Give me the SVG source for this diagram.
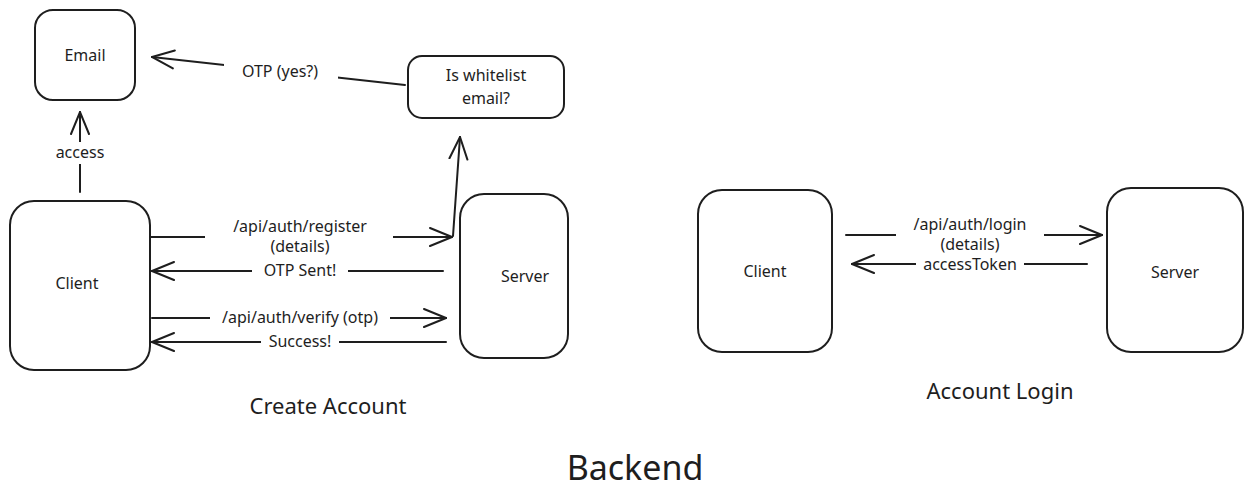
<svg xmlns="http://www.w3.org/2000/svg" width="1252" height="501" viewBox="0 0 1252 501">
<style>
.box{fill:#fff;stroke:#1e1e1e;stroke-width:2}
.ln{fill:none;stroke:#1e1e1e;stroke-width:2;stroke-linecap:round}
.t{font-family:"Noto Sans","DejaVu Sans",sans-serif;font-size:16px;fill:#1e1e1e;text-anchor:middle;dominant-baseline:central}
.lb{font-family:"Noto Sans","DejaVu Sans",sans-serif;font-size:16px;fill:#1e1e1e;text-anchor:middle;dominant-baseline:central}
.bg{fill:#fff}
</style>
<defs>
<marker id="ah" viewBox="0 0 24 24" refX="23" refY="12" markerWidth="24" markerHeight="24" markerUnits="userSpaceOnUse" orient="auto">
<path d="M1 3 L23 12 L1 21" fill="none" stroke="#1e1e1e" stroke-width="2" stroke-linecap="round"/>
</marker>
</defs>
<rect width="1252" height="501" fill="#fff"/>

<g id="email">
<rect class="box" x="35" y="10" width="100" height="90" rx="18"/>
<text class="t" x="85" y="55">Email</text>
</g>
<g id="whitelist">
<rect class="box" x="408" y="56" width="156" height="62" rx="14"/>
<text class="t" x="486" y="75">Is whitelist</text>
<text class="t" x="486" y="98">email?</text>
</g>
<g id="client-create">
<rect class="box" x="10" y="201" width="140" height="169" rx="24"/>
<text class="t" x="77" y="283">Client</text>
</g>
<g id="server-create">
<rect class="box" x="460" y="194" width="108" height="164" rx="24"/>
<text class="t" x="525" y="276">Server</text>
</g>
<g id="client-login">
<rect class="box" x="698" y="190" width="134" height="162" rx="24"/>
<text class="t" x="765" y="271">Client</text>
</g>
<g id="server-login">
<rect class="box" x="1107" y="188" width="136" height="164" rx="24"/>
<text class="t" x="1175" y="272">Server</text>
</g>

<g id="connectors">
<path class="ln" d="M405 85 L152 57" marker-end="url(#ah)"/>
<rect class="bg" x="224" y="60" width="114" height="22"/>
<text class="lb" x="280" y="71">OTP (yes?)</text>

<path class="ln" d="M80 192 L80 112" marker-end="url(#ah)"/>
<rect class="bg" x="48" y="142" width="64" height="22"/>
<text class="lb" x="80" y="152">access</text>

<path class="ln" d="M150 237 L452 237" marker-end="url(#ah)"/>
<path class="ln" d="M453 236 L460 137" marker-end="url(#ah)"/>
<rect class="bg" x="205" y="216" width="188" height="42"/>
<text class="lb" x="300" y="226">/api/auth/register</text>
<text class="lb" x="300" y="246">(details)</text>

<path class="ln" d="M443 271 L152 271" marker-end="url(#ah)"/>
<rect class="bg" x="252" y="262" width="96" height="18"/>
<text class="lb" x="300" y="270">OTP Sent!</text>

<path class="ln" d="M152 318 L446 318" marker-end="url(#ah)"/>
<rect class="bg" x="210" y="308" width="180" height="20"/>
<text class="lb" x="300" y="317">/api/auth/verify (otp)</text>

<path class="ln" d="M446 342 L152 342" marker-end="url(#ah)"/>
<rect class="bg" x="261" y="333" width="78" height="18"/>
<text class="lb" x="300" y="341">Success!</text>

<path class="ln" d="M846 235 L1102 235" marker-end="url(#ah)"/>
<rect class="bg" x="896" y="214" width="148" height="42"/>
<text class="lb" x="970" y="224">/api/auth/login</text>
<text class="lb" x="970" y="244">(details)</text>

<path class="ln" d="M1087 264 L852 264" marker-end="url(#ah)"/>
<rect class="bg" x="916" y="256" width="108" height="17"/>
<text class="lb" x="970" y="264">accessToken</text>
</g>

<g id="titles">
<text class="t" x="328" y="405" style="font-size:22px">Create Account</text>
<text class="t" x="1000" y="390" style="font-size:22px">Account Login</text>
<text class="t" x="635" y="467" style="font-size:34px">Backend</text>
</g>
</svg>
